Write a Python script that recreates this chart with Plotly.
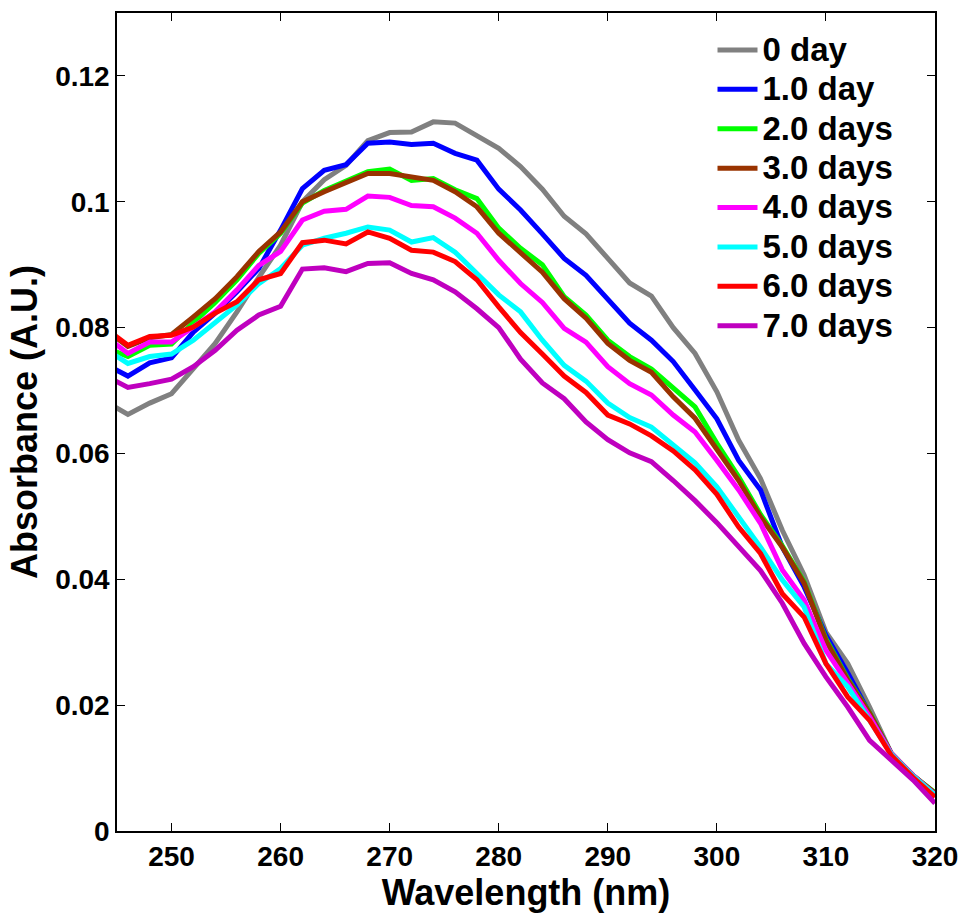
import plotly.graph_objects as go

wavelength = [244, 246, 248, 250, 252, 254, 256, 258, 260, 262, 264, 266, 268, 270, 272, 274, 276, 278, 280,
              282, 284, 286, 288, 290, 292, 294, 296, 298, 300, 302, 304, 306, 308, 310, 312, 314, 316, 318, 320]

day0 = [0.0682, 0.0662, 0.0680, 0.0695, 0.0735, 0.0775, 0.0825, 0.0880, 0.0931, 0.1000, 0.1035, 0.1058, 0.1097,
        0.1110, 0.1111, 0.1127, 0.1125, 0.1105, 0.1085, 0.1056, 0.1020, 0.0977, 0.0949, 0.0910, 0.0871, 0.0850,
        0.0800, 0.0759, 0.0698, 0.0621, 0.0560, 0.0478, 0.0407, 0.0316, 0.0266, 0.0197, 0.0123, 0.0088, 0.0057]
day1 = [0.0741, 0.0723, 0.0744, 0.0752, 0.0793, 0.0823, 0.0857, 0.0894, 0.0955, 0.1021, 0.1050, 0.1059, 0.1093,
        0.1095, 0.1091, 0.1093, 0.1077, 0.1066, 0.1020, 0.0987, 0.0949, 0.0910, 0.0883, 0.0844, 0.0807, 0.0780,
        0.0746, 0.0701, 0.0655, 0.0589, 0.0542, 0.0451, 0.0388, 0.0311, 0.0251, 0.0187, 0.0123, 0.0088, 0.0058]
day2 = [0.0768, 0.0754, 0.0772, 0.0774, 0.0808, 0.0840, 0.0876, 0.0918, 0.0950, 0.0998, 0.1018, 0.1032, 0.1048,
        0.1052, 0.1034, 0.1037, 0.1019, 0.1005, 0.0958, 0.0926, 0.0900, 0.0849, 0.0820, 0.0780, 0.0754, 0.0734,
        0.0704, 0.0674, 0.0616, 0.0563, 0.0503, 0.0453, 0.0396, 0.0305, 0.0242, 0.0188, 0.0123, 0.0088, 0.0061]
day3 = [0.0796, 0.0770, 0.0784, 0.0789, 0.0817, 0.0846, 0.0881, 0.0921, 0.0952, 0.1000, 0.1016, 0.1030, 0.1045,
        0.1045, 0.1039, 0.1034, 0.1016, 0.0992, 0.0950, 0.0918, 0.0888, 0.0846, 0.0815, 0.0775, 0.0748, 0.0729,
        0.0690, 0.0656, 0.0605, 0.0557, 0.0499, 0.0451, 0.0394, 0.0303, 0.0240, 0.0187, 0.0123, 0.0088, 0.0060]
day4 = [0.0785, 0.0759, 0.0777, 0.0777, 0.0801, 0.0825, 0.0860, 0.0899, 0.0921, 0.0971, 0.0985, 0.0988, 0.1009,
        0.1007, 0.0994, 0.0992, 0.0974, 0.0950, 0.0907, 0.0870, 0.0840, 0.0799, 0.0777, 0.0738, 0.0711, 0.0693,
        0.0661, 0.0634, 0.0589, 0.0542, 0.0489, 0.0415, 0.0367, 0.0287, 0.0235, 0.0182, 0.0123, 0.0088, 0.0058]
day5 = [0.0765, 0.0743, 0.0754, 0.0758, 0.0780, 0.0807, 0.0836, 0.0870, 0.0894, 0.0931, 0.0942, 0.0950, 0.0960,
        0.0955, 0.0936, 0.0943, 0.0920, 0.0886, 0.0852, 0.0825, 0.0780, 0.0740, 0.0715, 0.0680, 0.0657, 0.0642,
        0.0613, 0.0585, 0.0547, 0.0499, 0.0451, 0.0399, 0.0356, 0.0266, 0.0229, 0.0176, 0.0122, 0.0087, 0.0057]
day6 = [0.0798, 0.0772, 0.0786, 0.0788, 0.0801, 0.0823, 0.0841, 0.0876, 0.0886, 0.0935, 0.0939, 0.0933, 0.0952,
        0.0942, 0.0923, 0.0920, 0.0905, 0.0876, 0.0833, 0.0792, 0.0758, 0.0723, 0.0697, 0.0661, 0.0647, 0.0628,
        0.0604, 0.0574, 0.0535, 0.0483, 0.0441, 0.0377, 0.0340, 0.0266, 0.0213, 0.0176, 0.0120, 0.0085, 0.0054]
day7 = [0.0723, 0.0705, 0.0711, 0.0718, 0.0738, 0.0764, 0.0796, 0.0820, 0.0834, 0.0893, 0.0895, 0.0889, 0.0902,
        0.0903, 0.0886, 0.0876, 0.0857, 0.0830, 0.0800, 0.0750, 0.0712, 0.0687, 0.0650, 0.0622, 0.0601, 0.0587,
        0.0557, 0.0525, 0.0490, 0.0451, 0.0414, 0.0362, 0.0298, 0.0245, 0.0197, 0.0144, 0.0112, 0.0081, 0.0044]

series_names = ["0 day", "1.0 day", "2.0 days", "3.0 days", "4.0 days", "5.0 days", "6.0 days", "7.0 days"]
series_values = [day0, day1, day2, day3, day4, day5, day6, day7]
series_colors = ["#808080", "#0000FF", "#00FF00", "#993300", "#FF00FF", "#00FFFF", "#FF0000", "#BF00BF"]

x_tickvals = [250, 260, 270, 280, 290, 300, 310, 320]
y_tickvals = [0, 0.02, 0.04, 0.06, 0.08, 0.1, 0.12]
y_ticktext = ["0", "0.02", "0.04", "0.06", "0.08", "0.1", "0.12"]

FONT = "Liberation Sans, Arial, sans-serif"

fig = go.Figure()
for name, vals, col in zip(series_names, series_values, series_colors):
    fig.add_trace(go.Scatter(
        x=wavelength, y=vals, mode="lines",
        name='<span style="font-size:33px">' + name + '</span>',
        line=dict(color=col, width=5),
    ))

axis_common = dict(
    showline=True, linecolor="black", linewidth=1.5, mirror="ticks",
    ticks="inside", ticklen=8, tickcolor="black", tickwidth=1,
    showgrid=False, zeroline=False, automargin=False,
    tickfont=dict(family=FONT, size=28, color="black", weight="bold"),
)

fig.update_layout(
    width=964, height=915,
    margin=dict(l=117, r=29, t=13, b=84),
    paper_bgcolor="white", plot_bgcolor="white",
    font=dict(family=FONT, color="black"),
    showlegend=True,
    legend=dict(
        x=0.728, y=0.985, xanchor="left", yanchor="top",
        bgcolor="rgba(0,0,0,0)", borderwidth=0,
        font=dict(family=FONT, size=28, color="black", weight="bold"),
        itemwidth=40, tracegroupgap=0,
    ),
    xaxis=dict(
        range=[245, 320], tickvals=x_tickvals,
        title=dict(text="Wavelength (nm)", font=dict(family=FONT, size=36, color="black", weight="bold"), standoff=2),
        **axis_common,
    ),
    yaxis=dict(
        range=[0, 0.13], tickvals=y_tickvals, ticktext=y_ticktext,
        title=dict(text="Absorbance (A.U.)", font=dict(family=FONT, size=36, color="black", weight="bold"), standoff=7),
        **axis_common,
    ),
)

fig.write_html("out.html")
